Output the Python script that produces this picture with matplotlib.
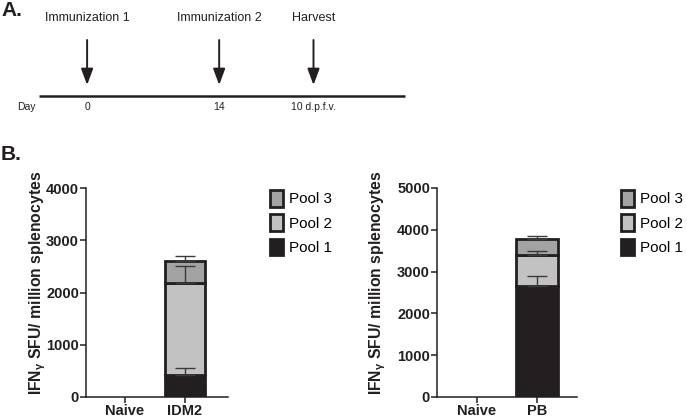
import numpy as np
import matplotlib
matplotlib.use("Agg")
import matplotlib.pyplot as plt
from matplotlib.patches import Patch

plt.rcParams['font.family'] = ['Liberation Sans', 'DejaVu Sans']
plt.rcParams['mathtext.fontset'] = 'custom'
plt.rcParams['mathtext.rm'] = 'Liberation Sans:bold'
plt.rcParams['mathtext.it'] = 'Liberation Sans:bold'

# timeline (panel A)
event_labels = ['Immunization 1', 'Immunization 2', 'Harvest']
event_days = [0, 14, 24]
day_labels = ['0', '14', '10 d.p.f.v.']

# stacked bars (panel B)
groups_left = ['Naive', 'IDM2']
groups_right = ['Naive', 'PB']
pools = ['Pool 1', 'Pool 2', 'Pool 3']
left_vals = {'Pool 1': [0, 420], 'Pool 2': [0, 1760], 'Pool 3': [0, 420]}
left_err = {'Pool 1': [0, 135], 'Pool 2': [0, 320], 'Pool 3': [0, 100]}
right_vals = {'Pool 1': [0, 2655], 'Pool 2': [0, 745], 'Pool 3': [0, 380]}
right_err = {'Pool 1': [0, 240], 'Pool 2': [0, 90], 'Pool 3': [0, 70]}
pool_colors = {'Pool 1': '#231f20', 'Pool 2': '#c2c2c2', 'Pool 3': '#a3a3a4'}

W, H = 687, 417
fig = plt.figure(figsize=(W / 100, H / 100), dpi=100)
ink = '#231f20'

def px_axes(x0, y0, x1, y1):
    return fig.add_axes([x0 / W, 1 - y1 / H, (x1 - x0) / W, (y1 - y0) / H])

# ---- panel A: timeline ----
tl = px_axes(39, 0, 405, 120)
tl.set_xlim(-5.1, 33.7)
tl.set_ylim(-24, 96)
tl.axis('off')
tl.plot([-5.1, 33.7], [0, 0], color=ink, lw=1.8, solid_capstyle='butt', clip_on=False)
for lab, d, dl in zip(event_labels, event_days, day_labels):
    tl.annotate('', xy=(d, 11), xytext=(d, 56),
                arrowprops=dict(arrowstyle='-|>,head_width=0.26,head_length=0.7',
                                lw=1.4, color=ink, mutation_scale=14, shrinkA=0, shrinkB=0))
    tl.text(d, 78, lab, ha='center', va='center', fontsize=9, color=ink)
    tl.text(d, -11, dl, ha='center', va='center', fontsize=7.5, color=ink)
fig.text(26 / W, 1 - 107 / H, 'Day', ha='center', va='center', fontsize=7.5, color=ink)
fig.text(1 / W, 1 - 11 / H, 'A.', ha='left', va='center', fontsize=15, fontweight='bold', color=ink)
fig.text(1 / W, 1 - 155 / H, 'B.', ha='left', va='center', fontsize=15, fontweight='bold', color=ink)

def stacked(ax, groups, vals, errs, ymax, width, xlim, label_x, legend_x):
    x = np.arange(len(groups))
    bottom = np.zeros(len(groups))
    tops = []
    for p in pools:
        v = np.array(vals[p], dtype=float)
        m = v > 0
        ax.bar(x[m], v[m], width, bottom=bottom[m], color=pool_colors[p], edgecolor=ink,
               linewidth=2.0, zorder=2)
        bottom = bottom + v
        tops.append(bottom.copy())
    for p, t in zip(pools, tops):
        e = np.array(errs[p], dtype=float)
        m = e > 0
        ax.errorbar(x[m], t[m], yerr=[np.zeros(m.sum()), e[m]], fmt='none',
                    ecolor='#3a3a3a', elinewidth=1.0, capsize=7.5, capthick=1.0, zorder=3)
    ax.set_xlim(*xlim)
    ax.set_ylim(0, ymax)
    ax.set_yticks(np.arange(0, ymax + 1, 1000))
    ax.set_xticks(x)
    ax.set_xticklabels(groups)
    for s in ['top', 'right']:
        ax.spines[s].set_visible(False)
    for s in ['left', 'bottom']:
        ax.spines[s].set_linewidth(1.1)
        ax.spines[s].set_color(ink)
    ax.tick_params(direction='out', length=4, width=1.1, color=ink, labelsize=10.5, pad=1)
    for t in ax.get_xticklabels() + ax.get_yticklabels():
        t.set_fontweight('bold')
        t.set_color(ink)
    ax.text(label_x, 0.545, r'IFN$_{\mathregular{γ}}$ SFU/ million splenocytes', transform=ax.transAxes,
            rotation=90, ha='center', va='center', fontsize=11.3, fontweight='bold', color=ink)
    handles = [Patch(facecolor=pool_colors[p], edgecolor=ink, linewidth=2.0, label=p)
               for p in pools[::-1]]
    fig.legend(handles=handles, loc='upper left', bbox_to_anchor=(legend_x / W, 1 - 190 / H),
               frameon=False, fontsize=11, handlelength=0.85, handleheight=1.3,
               handletextpad=0.4, labelspacing=0.5, borderpad=0, borderaxespad=0)

axL = px_axes(86, 188, 228, 397)
stacked(axL, groups_left, left_vals, left_err, 4000, 0.67, (-0.65, 1.717), -0.34, 270)
axR = px_axes(437, 188, 577, 397)
stacked(axR, groups_right, right_vals, right_err, 5000, 0.7, (-0.667, 1.667), -0.425, 621)

fig.savefig('out.png', dpi=100)
